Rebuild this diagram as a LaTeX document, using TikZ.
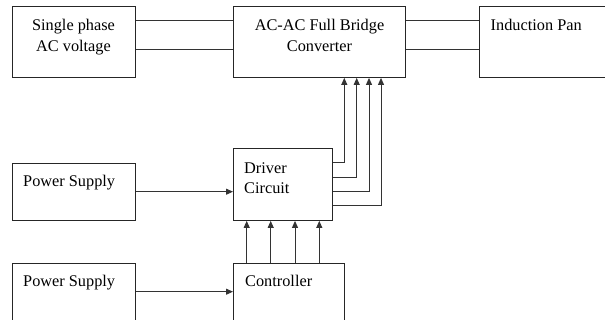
\documentclass[tikz,border=0pt]{standalone}
\usepackage{fontspec}
\setmainfont{Liberation Serif}
\usetikzlibrary{arrows.meta}
\begin{document}
\begin{tikzpicture}[x=1pt,y=-1pt,
  box/.style={draw=black!85,line width=0.9pt,rectangle,inner sep=0pt,anchor=north west},
  lbl/.style={inner sep=0pt,anchor=base,font=\fontsize{16.3}{21}\selectfont},
  lblw/.style={lbl,anchor=base west},
  conn/.style={draw=black!80,line width=0.9pt},
  arr/.style={conn,-{Triangle[length=7pt,width=6pt]}}]
\useasboundingbox (0,0) rectangle (605,320);
% boxes
\node[box,minimum width=123pt,minimum height=71pt] (sp) at (12,6) {};
\node[box,minimum width=172pt,minimum height=71pt] (ac) at (233,6) {};
\node[box,minimum width=140pt,minimum height=71pt] (ip) at (479,6) {};
\node[box,minimum width=99pt,minimum height=72pt] (dc) at (233,148) {};
\node[box,minimum width=123pt,minimum height=57pt] (ps1) at (12,163) {};
\node[box,minimum width=123pt,minimum height=70pt] (ps2) at (12,263) {};
\node[box,minimum width=111pt,minimum height=70pt] (ct) at (233,263) {};
% labels
\node[lbl] (t1) at (73.5,30.7) {Single phase};
\node[lbl] (t2) at (73.5,51.7) {AC voltage};
\node[lbl] (t3) at (319.5,30.7) {AC-AC Full Bridge};
\node[lbl] (t4) at (319.5,51.7) {Converter};
\node[lblw] (t5) at (490.5,30.7) {Induction Pan};
\node[lblw] (t6) at (244,173.3) {Driver};
\node[lblw] (t7) at (244,194) {Circuit};
\node[lblw] (t8) at (23,186.7) {Power Supply};
\node[lblw] (t9) at (23,286.3) {Power Supply};
\node[lblw] (t10) at (245,286.7) {Controller};
% helper coordinates
\coordinate (h1) at (0,20.7);
\coordinate (h2) at (0,49);
\coordinate (d1) at (0,162.7);
\coordinate (d2) at (0,177.3);
\coordinate (d3) at (0,191.7);
\coordinate (d4) at (0,205.7);
\coordinate (v1) at (344.3,0);
\coordinate (v2) at (356.7,0);
\coordinate (v3) at (369,0);
\coordinate (v4) at (381,0);
\coordinate (c1) at (246.7,0);
\coordinate (c2) at (270.7,0);
\coordinate (c3) at (295,0);
\coordinate (c4) at (319.3,0);
\coordinate (p2) at (0,291.7);
% power lines
\draw[conn] (sp.east |- h1) -- (ac.west |- h1);
\draw[conn] (sp.east |- h2) -- (ac.west |- h2);
\draw[conn] (ac.east |- h1) -- (ip.west |- h1);
\draw[conn] (ac.east |- h2) -- (ip.west |- h2);
% driver to converter
\draw[arr] (dc.east |- d1) -| (ac.south -| v1);
\draw[arr] (dc.east |- d2) -| (ac.south -| v2);
\draw[arr] (dc.east |- d3) -| (ac.south -| v3);
\draw[arr] (dc.east |- d4) -| (ac.south -| v4);
% supplies
\draw[arr] (ps1.east |- d3) -- (dc.west |- d3);
\draw[arr] (ps2.east |- p2) -- (ct.west |- p2);
% controller to driver
\draw[arr] (ct.north -| c1) -- (dc.south -| c1);
\draw[arr] (ct.north -| c2) -- (dc.south -| c2);
\draw[arr] (ct.north -| c3) -- (dc.south -| c3);
\draw[arr] (ct.north -| c4) -- (dc.south -| c4);
\end{tikzpicture}
\end{document}
